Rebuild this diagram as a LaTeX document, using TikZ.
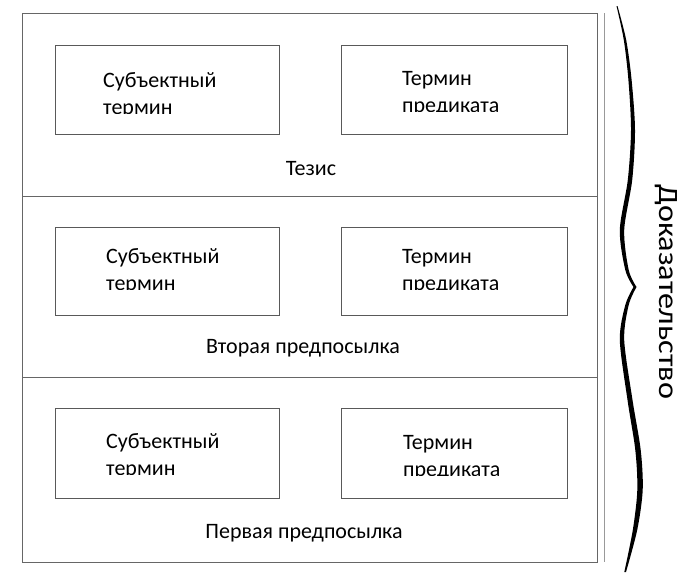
\documentclass[tikz,border=0pt]{standalone}
\usepackage{fontspec}
\setmainfont{Carlito}
\usetikzlibrary{positioning}

% two lines of a text box, cut at the bottom like the original frame
\newcommand{\boxtext}[5]{%
  \begin{scope}
    \clip (#2-8,#3-30) rectangle (#2+170,#3+26);
    \node[term] (#1a) at (#2,#3) {#4};
    \node[term] (#1b) at (#2,#3+27) {#5};
  \end{scope}}

\begin{document}
\begin{tikzpicture}[x=1pt,y=-1pt]
   \tikzstyle{frame}=[draw=black!60,line width=0.8pt]
   \tikzstyle{place}=[rectangle,draw=black!65,line width=0.8pt,inner sep=0pt]
   \tikzstyle{term}=[anchor=base west,inner sep=0pt,font=\fontsize{22}{26}\selectfont]
   \tikzstyle{caption}=[anchor=base,inner sep=0pt,font=\fontsize{22}{26}\selectfont]
   \useasboundingbox (0,0) rectangle (691,576);

   % outer frame
   \draw[frame] (22,13) rectangle (597,562);
   \draw[frame] (22,196) -- (597,196);
   \draw[frame] (22,377) -- (597,377);
   \draw[draw=black!40,line width=0.8pt] (604,13) -- (604,562);

   % boxes
   \node[place,minimum width=224pt,minimum height=89pt] (1) at (167,89.5) {};
   \node[place,minimum width=226pt,minimum height=89pt] (2) at (454,89.5) {};
   \node[place,minimum width=224pt,minimum height=88pt] (3) at (167,271) {};
   \node[place,minimum width=226pt,minimum height=88pt] (4) at (454,271) {};
   \node[place,minimum width=224pt,minimum height=90pt] (5) at (167,453) {};
   \node[place,minimum width=226pt,minimum height=90pt] (6) at (454,453) {};

   \boxtext{s1}{103}{87}{Субъектный}{термин}
   \boxtext{p1}{402}{85}{Термин}{предиката}
   \boxtext{s2}{106}{263}{Субъектный}{термин}
   \boxtext{p2}{402}{263}{Термин}{предиката}
   \boxtext{s3}{106}{448}{Субъектный}{термин}
   \boxtext{p3}{403}{449}{Термин}{предиката}

   \node[caption] (7) at (311,175) {Тезис};
   \node[caption] (8) at (303,353) {Вторая предпосылка};
   \node[caption] (9) at (304,538) {Первая предпосылка};

   % brace
   \fill[black] plot[smooth] coordinates {(617.5,6) (626.2,40) (631.6,80) (635,130) (632.2,180) (624.2,230) (628.7,270) (636.5,287)}
     -- plot[smooth] coordinates {(636.5,287) (628.7,305) (624.2,340) (632.5,400) (640.7,450) (642.7,490) (637.2,530) (626,572)}
     -- plot[smooth] coordinates {(624.3,572) (632.8,530) (637.3,490) (635.3,450) (627.5,400) (619.8,340) (625.3,305) (633.5,287)}
     -- plot[smooth] coordinates {(633.5,287) (625.3,270) (619.8,230) (627.8,180) (631,130) (628.4,80) (623.8,40) (616.5,6)}
     -- cycle;

   \node[anchor=base,rotate=-90,xscale=1.15,inner sep=0pt,font=\fontsize{28}{32}\selectfont] (10) at (659,292) {Доказательство};
\end{tikzpicture}
\end{document}
